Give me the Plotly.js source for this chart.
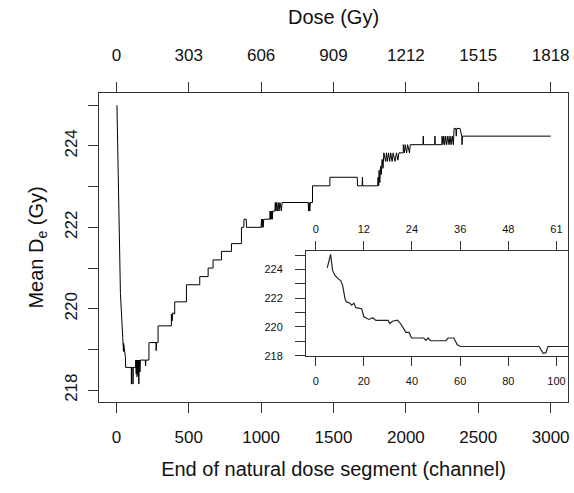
<!DOCTYPE html>
<html><head><meta charset="utf-8">
<script src="https://cdn.plot.ly/plotly-3.0.1.min.js"></script>
<style>html,body{margin:0;padding:0;background:#fff}</style>
</head><body><div id="chart" style="width:574px;height:493px"></div>
<script>
// Main curve: end of natural dose segment (channel) vs mean De (Gy)
const mainChannel = [4,28,44,46,47,49,50,63,64,103,104,105,114,115,116,133,
 134,137,140,143,146,150,153,155,157,160,163,166,200,202,204,
 225,225,228,230,274,275,277,288,288,380,380,385,390,403,403,484,484,576,576,634,634,668,668,726,726,795,795,864,864,
 880,882,897,899,1000,1003,1006,1010,1014,1018,
 1060,1062,1065,1068,1072,1075,1078,1080,
 1095,1098,1102,1106,1112,1118,1124,1130,1140,1145,
 1325,1328,1332,1336,1340,1355,1355,1475,1475,
 1664,1666,1698,1700,1702,
 1805,1808,1812,1815,1820,1825,1830,1836,1842,1848,
 1860,1866,1872,1880,1888,1895,1905,1912,1925,1935,1945,1952,
 1982,1982,1990,1995,2005,2012,2025,2030,
 2118,2120,2122,2199,2201,2203,
 2248,2250,2256,2262,2268,2275,2282,2290,2298,2305,2312,2320,2328,
 2333,2345,2348,2352,2374,2386,2388,2391,3000];
const mainDe = [225.0,220.38,219.3,219.0,219.25,218.95,219.15,218.8,218.56,218.56,218.15,218.56,218.56,218.15,218.56,218.56,
 218.74,218.4,218.74,218.33,218.74,218.4,218.74,218.15,218.5,218.74,218.45,218.74,218.74,218.6,218.74,
 218.74,219.17,218.97,219.17,219.17,218.97,219.17,219.17,219.58,219.58,219.87,219.7,219.9,219.87,220.17,220.17,220.59,220.59,220.79,220.79,221.0,221.0,221.2,221.2,221.41,221.41,221.6,221.6,222.0,
 222.0,222.2,222.2,222.0,222.0,222.2,222.0,222.2,222.0,222.2,
 222.2,222.4,222.2,222.4,222.2,222.4,222.2,222.4,
 222.4,222.61,222.4,222.61,222.4,222.61,222.4,222.61,222.4,222.61,
 222.61,222.4,222.61,222.4,222.61,222.61,223.02,223.02,223.23,
 223.23,223.02,223.02,223.23,223.02,
 223.02,223.23,223.02,223.4,223.1,223.5,223.3,223.67,223.45,223.83,
 223.62,223.83,223.62,223.83,223.62,223.83,223.62,223.83,223.62,223.83,223.65,223.83,
 223.83,224.03,223.83,224.03,223.83,224.03,223.83,224.03,
 224.03,224.24,224.03,224.03,224.24,224.03,
 224.03,224.24,224.03,224.24,224.03,224.24,224.03,224.24,224.03,224.24,224.03,224.24,224.03,
 224.43,224.43,224.24,224.43,224.43,224.24,224.03,224.24,224.24];

// Inset curve
const insetChannel = [4.8,6.2,7.0,8.0,9.4,10.4,11.2,12.2,12.8,14.2,14.9,15.9,16.7,18.4,19.1,20.0,21.2,22.1,23.7,25.0,30.1,30.8,31.9,33.9,35.0,36.6,37.5,38.8,39.8,44.9,45.8,46.7,47.7,54.1,55.0,57.4,58.8,60.2,92.8,94.5,95.6,96.5,106];
const insetDe = [224.10,225.05,223.93,223.58,223.34,223.22,222.87,221.93,221.74,221.65,221.51,221.65,221.34,221.27,221.27,220.71,220.59,220.52,220.64,220.45,220.45,220.24,220.40,220.47,220.29,219.81,219.62,219.62,219.23,219.23,219.06,219.23,219.04,219.04,219.23,219.23,218.76,218.64,218.64,218.17,218.21,218.64,218.64];

// Ticks
const channelTicks = [0,500,1000,1500,2000,2500,3000];
const doseTickText = ['0','303','606','909','1212','1515','1818'];
const deTicks = [218,220,222,224];
const deMinorTicks = [219,221,223,225];
const insetChannelTicks = [0,20,40,60,80,100];
const insetDoseTickText = ['0','12','24','36','48','61'];
const insetDeTicks = [218,220,222,224];
const insetDeMinorTicks = [219,221,223,225];

const FONT = 'Liberation Sans, Arial, sans-serif';
const INK = '#111';
const LINE = '#333';

const traces = [
  {x: mainChannel, y: mainDe, type: 'scatter', mode: 'lines', line: {color: '#000', width: 1}, xaxis: 'x', yaxis: 'y', hoverinfo: 'skip'},
  {x: insetChannel, y: insetDe, type: 'scatter', mode: 'lines', line: {color: '#222', width: 1.2}, xaxis: 'x3', yaxis: 'y3', hoverinfo: 'skip'}
];

const layout = {
  width: 574, height: 493,
  margin: {l: 99, r: 6, t: 93, b: 91},
  paper_bgcolor: '#fff', plot_bgcolor: '#fff',
  showlegend: false,
  font: {family: FONT, color: INK, size: 17},
  xaxis: {
    domain: [0, 1], range: [-120, 3120], tickvals: channelTicks, ticktext: channelTicks.map(String),
    ticks: 'outside', ticklen: 10, tickcolor: LINE, tickwidth: 1, ticklabelstandoff: 10,
    showline: true, mirror: true, linecolor: LINE, linewidth: 1,
    showgrid: false, zeroline: false, tickfont: {size: 17},
    title: {text: 'End of natural dose segment (channel)', font: {size: 20}, standoff: 15}, automargin: false
  },
  xaxis2: {
    overlaying: 'x', side: 'top', anchor: 'y', range: [-120, 3120], tickvals: channelTicks, ticktext: doseTickText,
    ticks: 'outside', ticklen: 10, tickcolor: LINE, tickwidth: 1, ticklabelstandoff: 14,
    showline: false, showgrid: false, zeroline: false, tickfont: {size: 17},
    title: {text: 'Dose (Gy)', font: {size: 20}, standoff: 16}, automargin: false
  },
  yaxis: {
    domain: [0, 1], range: [217.71, 225.30], tickvals: deTicks, ticktext: deTicks.map(String), tickangle: -90,
    ticks: 'outside', ticklen: 10, tickcolor: LINE, tickwidth: 1, ticklabelstandoff: 4,
    minor: {tickvals: deMinorTicks, ticks: 'outside', ticklen: 10, tickcolor: LINE, tickwidth: 1, showgrid: false},
    showline: true, mirror: true, linecolor: LINE, linewidth: 1,
    showgrid: false, zeroline: false, tickfont: {size: 17},
    title: {text: 'Mean D<sub>e</sub> (Gy)', font: {size: 20}, standoff: 13}, automargin: false
  },
  xaxis3: {
    domain: [0.4414, 1], anchor: 'y3', range: [-4.02, 104.8], tickvals: insetChannelTicks, ticktext: insetChannelTicks.map(String),
    ticks: 'outside', ticklen: 9, tickcolor: LINE, tickwidth: 1, ticklabelstandoff: 6,
    showline: true, mirror: true, linecolor: LINE, linewidth: 1,
    showgrid: false, zeroline: false, tickfont: {size: 11}, automargin: false
  },
  xaxis4: {
    overlaying: 'x3', side: 'top', anchor: 'y3', range: [-4.02, 104.8], tickvals: insetChannelTicks, ticktext: insetDoseTickText,
    ticks: 'outside', ticklen: 9, tickcolor: LINE, tickwidth: 1, ticklabelstandoff: 4,
    showline: false, showgrid: false, zeroline: false, tickfont: {size: 11}, automargin: false
  },
  yaxis3: {
    domain: [0.1489, 0.4887], anchor: 'x3', range: [217.98, 225.28], tickvals: insetDeTicks, ticktext: insetDeTicks.map(String),
    ticks: 'outside', ticklen: 10, tickcolor: LINE, tickwidth: 1, ticklabelstandoff: 10,
    minor: {tickvals: insetDeMinorTicks, ticks: 'outside', ticklen: 10, tickcolor: LINE, tickwidth: 1, showgrid: false},
    showline: true, mirror: true, linecolor: LINE, linewidth: 1,
    showgrid: false, zeroline: false, tickfont: {size: 11}, automargin: false
  }
};

// Invisible anchor traces so the overlay (top) axes are drawn
traces.push({x: [0], y: [220], xaxis: 'x2', yaxis: 'y', mode: 'markers', marker: {opacity: 0}, hoverinfo: 'skip'});
traces.push({x: [0], y: [220], xaxis: 'x4', yaxis: 'y3', mode: 'markers', marker: {opacity: 0}, hoverinfo: 'skip'});

Plotly.newPlot('chart', traces, layout, {staticPlot: true, displayModeBar: false});
</script>
</body></html>
